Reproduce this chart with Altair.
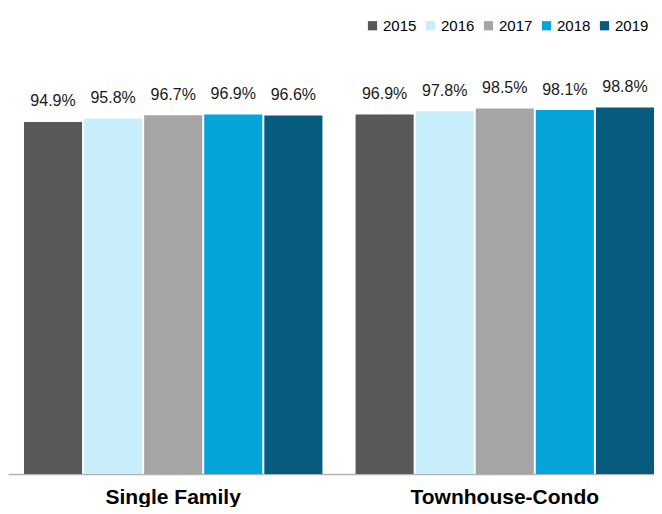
import altair as alt
import pandas as pd

groups = ["Single Family", "Townhouse-Condo"]
years = ["2015", "2016", "2017", "2018", "2019"]
single_family = [94.9, 95.8, 96.7, 96.9, 96.6]
townhouse_condo = [96.9, 97.8, 98.5, 98.1, 98.8]
colors = ["#595959", "#C8EEFB", "#A5A5A5", "#05A4DB", "#075B7E"]

rows = []
for g, vals in zip(groups, [single_family, townhouse_condo]):
    for y, v in zip(years, vals):
        rows.append({"group": g, "year": y, "value": v, "label": f"{v:.1f}%"})
df = pd.DataFrame(rows)

FONT = "Liberation Sans"

x = alt.X(
    "group:N",
    sort=groups,
    scale=alt.Scale(paddingInner=0.1, paddingOuter=0.0241, align=1),
    axis=alt.Axis(
        title=None,
        labelAngle=0,
        labelFontSize=21,
        labelFontWeight="bold",
        labelColor="#000000",
        labelFont=FONT,
        labelPadding=12,
        labelLimit=0,
        ticks=False,
        domainColor="#b3b3b3",
        domainWidth=1.5,
        grid=False,
    ),
)
xoff = alt.XOffset("year:N", sort=years, scale=alt.Scale(paddingInner=0.033, paddingOuter=0))
y = alt.Y("value:Q", scale=alt.Scale(domain=[0, 125.6], nice=False, zero=True), axis=None)

base = alt.Chart(df)

bars = base.mark_bar().encode(
    x=x,
    xOffset=xoff,
    y=y,
    color=alt.Color(
        "year:N",
        sort=years,
        scale=alt.Scale(domain=years, range=colors),
        legend=alt.Legend(
            title=None,
            orient="none",
            direction="horizontal",
            legendX=357,
            legendY=10,
            symbolType="square",
            symbolSize=85,
            symbolStrokeWidth=0,
            labelFontSize=15,
            labelFont=FONT,
            labelColor="#000000",
            labelOffset=3,
            columnPadding=6,
            padding=0,
        ),
    ),
)

text = base.mark_text(
    dy=-20.5, baseline="middle", align="center", fontSize=16, font=FONT, color="#1a1a1a"
).encode(
    x=x,
    xOffset=xoff,
    y=y,
    text="label:N",
)

chart = (
    alt.layer(bars, text)
    .properties(width=646, height=466, padding={"left": 0, "top": 0, "right": 0, "bottom": 0})
    .configure_view(stroke=None)
)

chart.save("out.html", embed_options={"renderer": "svg", "actions": False})
